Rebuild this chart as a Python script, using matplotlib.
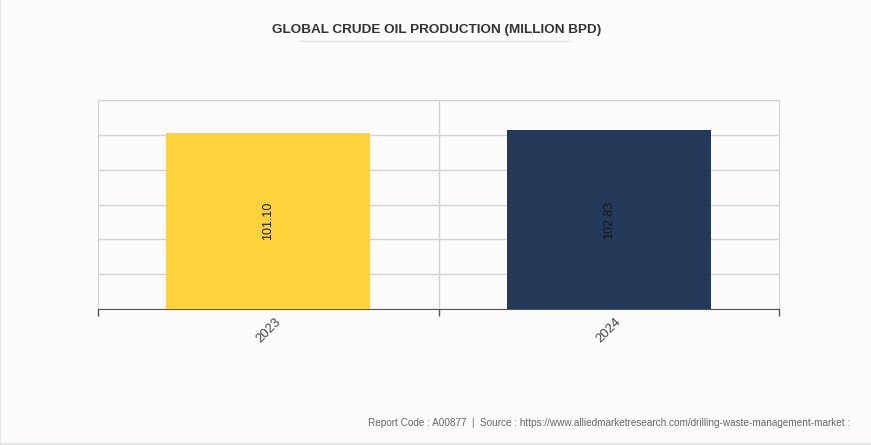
import matplotlib.pyplot as plt
from matplotlib.lines import Line2D
from matplotlib.patches import Rectangle
import numpy as np

plt.rcParams['font.family'] = ['Liberation Sans', 'DejaVu Sans']

# ~~~ data ~~~
years = ['2023', '2024']
production = [101.10, 102.83]
bar_colors = ['#FED23B', '#243858']

fig = plt.figure(figsize=(8.71, 4.45), dpi=100)
fig.patch.set_facecolor('#FDFCFB')

ax = fig.add_axes([98/871, 1 - 309/445, 681/871, 209/445])
ax.set_facecolor('#FDFCFB')

x = np.arange(len(years))
bars = ax.bar(x, production, width=0.6, color=bar_colors, zorder=3)

for b, v in zip(bars, production):
    ax.text(b.get_x() + b.get_width() / 2, v / 2, f'{v:.2f}', rotation=90,
            ha='center', va='center', fontsize=9, color='#1A1A1A', zorder=4)

ax.set_xlim(-0.5, 1.5)
ax.set_ylim(0, 120)
ax.set_yticks(np.arange(0, 121, 20))
ax.set_yticklabels([])
ax.tick_params(axis='y', length=0)
ax.grid(axis='y', color='#D3D3D3', linewidth=1, zorder=0)

ax.set_xticks(x)
ax.set_xticklabels(years, rotation=45, ha='center', fontsize=9.5, color='#444444')
ax.tick_params(axis='x', which='major', length=0, pad=5)
ax.set_xticks([-0.5, 0.5, 1.5], minor=True)
ax.tick_params(axis='x', which='minor', length=5, color='#555555', width=1)
ax.axvline(0.5, color='#D3D3D3', linewidth=1, zorder=0)

for side in ['top', 'left', 'right']:
    ax.spines[side].set_color('#D3D3D3')
ax.spines['bottom'].set_color('#555555')

fig.text(437/871, 1 - 30/445, 'GLOBAL CRUDE OIL PRODUCTION (MILLION BPD)',
         ha='center', va='center', fontsize=9.7, fontweight='bold', color='#333333')
fig.add_artist(Line2D([300/871, 570/871], [1 - 41/445, 1 - 41/445],
                      color='#E6E6E6', linewidth=1))

fig.text(850/871, 1 - 423/445,
         'Report Code : A00877  |  Source : https://www.alliedmarketresearch.com/drilling-waste-management-market :',
         ha='right', va='center', fontsize=7.2, color='#666666')

# thin frame along the left and bottom edges
fig.add_artist(Rectangle((0, 0), 1, 2/445, transform=fig.transFigure,
                         facecolor='#E6E6E6', edgecolor='none'))
fig.add_artist(Rectangle((0, 0), 1/871, 1, transform=fig.transFigure,
                         facecolor='#E6E6E6', edgecolor='none'))

plt.savefig('out.png', dpi=100, facecolor=fig.get_facecolor())
